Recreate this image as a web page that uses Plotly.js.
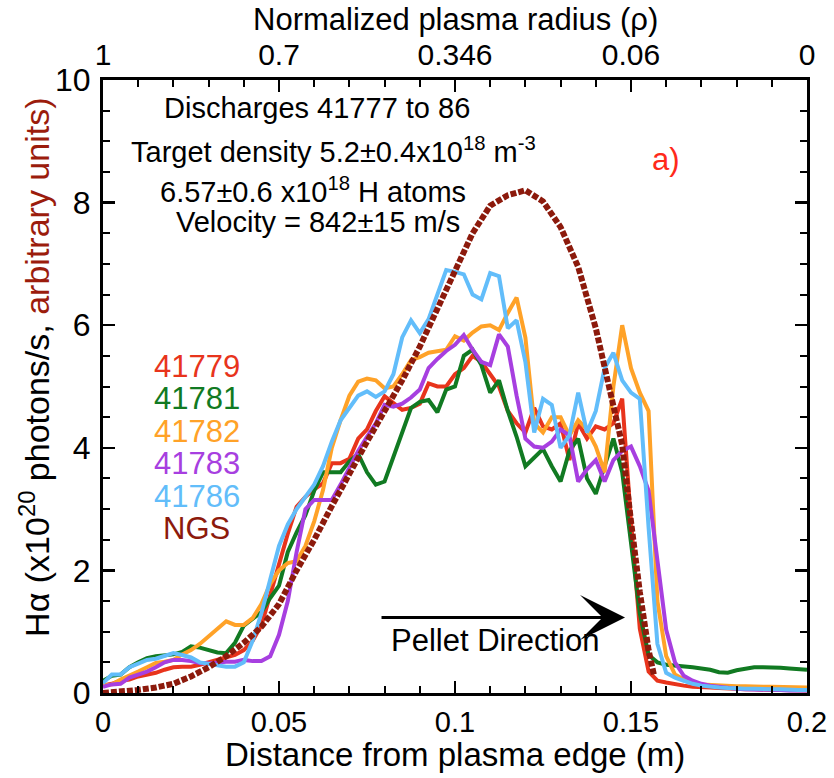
<!DOCTYPE html>
<html>
<head>
<meta charset="utf-8">
<script src="https://cdn.plot.ly/plotly-3.0.1.min.js"></script>
<style>html,body{margin:0;padding:0;background:#fff;}#chart{width:834px;height:778px;}</style>
</head>
<body>
<div id="chart"></div>
<script>
// Distance from plasma edge (m)
const distance = [0,0.0025,0.005,0.0075,0.01,0.0125,0.015,0.0175,0.02,0.0225,
0.025,0.0275,0.03,0.0325,0.035,0.0375,0.04,0.0425,0.045,0.0475,
0.05,0.0525,0.055,0.0575,0.06,0.0625,0.065,0.0675,0.07,0.0725,
0.075,0.0775,0.08,0.0825,0.085,0.0875,0.09,0.0925,0.095,0.0975,
0.1,0.1025,0.105,0.1075,0.11,0.1125,0.115,0.1175,0.12,0.1225,
0.125,0.1275,0.13,0.1325,0.135,0.1375,0.14,0.1425,0.145,0.1475,
0.15,0.1525,0.155,0.1575,0.16,0.1625,0.165,0.1675,0.17,0.1725,
0.175,0.1775,0.18,0.1825,0.185,0.1875,0.19,0.1925,0.195,0.1975,
0.2];

const s41779 = [0.12,0.15,0.2,0.22,0.27,0.3,0.33,0.38,0.42,0.43,
0.43,0.46,0.5,0.53,0.58,0.62,0.7,0.85,1.1,1.6,
2.15,2.6,3.04,3.2,3.32,3.42,3.75,3.75,3.82,4.15,
4.3,4.6,4.84,4.73,4.62,4.65,4.72,5.05,5.0,5.0,
5.2,5.3,5.5,5.4,5.2,5.0,4.6,4.4,4.25,4.65,
4.35,4.3,4.4,3.8,4.4,4.15,4.35,4.3,4.4,4.8,
2.8,1.05,0.35,0.2,0.17,0.14,0.12,0.1,0.1,0.09,
0.08,0.07,0.07,0.06,0.06,0.05,0.05,0.05,0.05,0.04,
0.04];

const s41781 = [0.2,0.28,0.3,0.42,0.5,0.57,0.6,0.62,0.63,0.67,
0.76,0.74,0.7,0.66,0.65,0.82,1.1,1.22,1.32,1.55,
1.75,2.3,2.62,2.9,3.3,3.6,3.6,3.6,3.78,3.9,
3.6,3.4,3.45,3.86,4.25,4.65,4.75,4.78,4.58,4.95,
5.0,5.5,5.6,5.35,4.9,5.1,4.6,4.18,3.7,3.85,
3.98,3.7,3.45,3.95,4.15,3.5,3.25,3.7,4.15,3.6,
2.5,1.3,0.62,0.5,0.46,0.45,0.44,0.42,0.4,0.38,
0.34,0.33,0.37,0.4,0.42,0.42,0.42,0.41,0.4,0.39,
0.38];

const s41782 = [0.12,0.14,0.22,0.28,0.35,0.42,0.49,0.51,0.54,0.63,
0.7,0.8,0.92,1.05,1.17,1.11,1.11,1.22,1.45,1.78,
2.0,2.12,2.15,2.4,2.8,3.31,4.0,4.45,4.85,5.08,
5.13,5.1,4.97,5.0,5.2,5.43,5.48,5.55,5.58,5.6,
5.82,5.75,5.88,5.98,6.0,5.92,6.2,6.45,5.8,4.4,
4.25,4.5,4.5,4.2,4.45,4.3,4.02,3.6,5.0,6.0,
5.3,4.9,4.6,1.5,0.6,0.3,0.22,0.16,0.14,0.13,
0.12,0.12,0.11,0.11,0.1,0.1,0.1,0.1,0.09,0.09,
0.09];

const s41783 = [0.1,0.14,0.15,0.25,0.3,0.35,0.42,0.5,0.54,0.54,
0.52,0.49,0.48,0.5,0.51,0.51,0.54,0.52,0.52,0.6,
0.95,1.5,2.3,3.0,3.15,3.15,3.15,3.4,3.68,3.95,
4.18,4.4,4.7,4.67,4.72,4.82,4.95,5.3,5.45,5.58,
5.68,5.84,5.6,5.4,5.35,5.85,5.65,4.85,4.15,4.02,
4.0,4.1,4.3,4.2,3.45,3.65,3.8,3.45,3.8,3.95,
4.02,3.7,3.3,2.1,1.03,0.5,0.28,0.2,0.15,0.12,
0.1,0.08,0.07,0.06,0.06,0.05,0.05,0.05,0.04,0.04,
0.04];

const s41786 = [0.16,0.3,0.3,0.42,0.48,0.54,0.56,0.6,0.65,0.62,
0.58,0.5,0.48,0.45,0.43,0.43,0.5,0.85,1.3,1.85,
2.4,2.75,3.0,3.2,3.4,3.7,4.1,4.45,4.65,4.85,
4.92,4.83,4.92,5.2,5.8,6.08,5.87,6.1,6.5,6.9,
6.87,6.83,6.5,6.42,6.85,6.8,5.95,6.08,5.4,4.25,
4.8,4.7,4.0,4.2,4.9,4.25,4.6,5.3,5.55,5.1,
4.9,4.8,2.7,0.8,0.33,0.25,0.2,0.15,0.12,0.1,
0.09,0.08,0.07,0.07,0.07,0.06,0.06,0.06,0.05,0.05,
0.05];

// NGS model (arbitrary units)
const ngsDistance = [0,0.005,0.01,0.015,0.02,0.025,0.03,0.035,0.04,0.045,
0.05,0.055,0.06,0.065,0.07,0.075,0.08,0.085,0.09,0.095,
0.1,0.105,0.11,0.115,0.12,0.125,0.13,0.135,0.14,0.145,
0.1475,0.15,0.1525,0.155,0.1565];
const ngsValues = [0,0.02,0.05,0.09,0.15,0.27,0.42,0.6,0.82,1.08,
1.45,2.0,2.5,3.05,3.6,4.1,4.6,5.1,5.65,6.25,
6.85,7.5,7.95,8.12,8.2,8.02,7.6,6.95,5.95,4.75,
4.05,2.8,1.65,0.7,0.3];

const shotNames = ['41779','41781','41782','41783','41786'];
const shotColors = ['#e8341c','#117a22','#ffa228','#a73fe0','#62bdfa'];
const ngsColor = '#8c1a0c';
const topTickVals = [0,0.05,0.1,0.15,0.2];
const topTickText = ['1','0.7','0.346','0.06','0'];

const seriesList = [s41779, s41781, s41782, s41783, s41786];
const traces = seriesList.map((s,i)=>({
  x: distance, y: s, type:'scatter', mode:'lines', name: shotNames[i],
  line:{color: shotColors[i], width:4}
}));
traces.push({x: ngsDistance, y: ngsValues, type:'scatter', mode:'lines', name:'NGS',
  line:{color: ngsColor, width:6, dash:'6px,2px'}});
// helper trace that activates the mirrored top / right axes
traces.push({x:[0,0.2], y:[null,null], xaxis:'x2', yaxis:'y2', type:'scatter', mode:'lines',
  showlegend:false, hoverinfo:'skip', line:{width:0}});

const FONT = 'Liberation Sans, Arial, Helvetica, sans-serif';
const annText = (text, x, y, size, color) => ({
  text, x, y, xref:'x', yref:'y', showarrow:false, xanchor:'center', yanchor:'middle',
  font:{family:FONT, size, color: color||'#000'}
});

const legendY = [5.32, 4.8, 4.27, 3.74, 3.21];
const annotations = [
  annText('Discharges 41777 to 86', 0.0608, 9.54, 29),
  annText('Target density 5.2±0.4x10<sup>18</sup> m<sup>-3</sup>', 0.0656, 8.86, 29),
  annText('6.57±0.6 x10<sup>18</sup> H atoms', 0.0597, 8.2, 29),
  annText('Velocity = 842±15 m/s', 0.061, 7.68, 29),
  annText('a)', 0.160, 8.7, 31, '#ff2a1a'),
  annText('Pellet Direction', 0.1114, 0.86, 31),
  {x:0.1483, y:1.23, ax:0.0787, ay:1.23, xref:'x', yref:'y', axref:'x', ayref:'y',
   text:'', showarrow:true, arrowhead:3, arrowsize:2.5, arrowwidth:3, arrowcolor:'#000'},
  // axis titles
  {text:'Distance from plasma edge (m)', xref:'paper', yref:'paper', x:0.5, y:-0.1005,
   showarrow:false, xanchor:'center', yanchor:'middle', font:{family:FONT, size:33, color:'#000'}},
  {text:'Normalized plasma radius (ρ)', xref:'paper', yref:'paper', x:0.5, y:1.0995,
   showarrow:false, xanchor:'center', yanchor:'middle', font:{family:FONT, size:31, color:'#000'}},
  {text:'Hα (x10<sup>20</sup> photons/s, <span style="color:#9b1c0c">arbitrary units)</span>',
   xref:'paper', yref:'paper', x:-0.0966, y:0.532, textangle:-90,
   showarrow:false, xanchor:'center', yanchor:'middle', font:{family:FONT, size:34, color:'#000'}}
];
shotNames.forEach((n,i)=>annotations.push(annText(n, 0.0267, legendY[i], 31, shotColors[i])));
annotations.push(annText('NGS', 0.0267, 2.69, 31, ngsColor));

const tickStyle = {ticks:'inside', ticklen:12, tickwidth:2.5, tickcolor:'#000'};
const layout = {
  width:834, height:778,
  margin:{l:103, r:27, t:80, b:85},
  paper_bgcolor:'#fff', plot_bgcolor:'#fff',
  showlegend:false,
  font:{family:FONT, color:'#000'},
  xaxis:Object.assign({range:[0,0.2], tick0:0, dtick:0.05,
    minor:{tickmode:'linear', dtick:0.01, tick0:0, ticks:'inside', ticklen:7, tickwidth:2, tickcolor:'#000'},
    showline:true, linewidth:3, linecolor:'#000', showgrid:false, zeroline:false,
    tickfont:{size:29}, ticklabelstandoff:1}, tickStyle),
  xaxis2:Object.assign({overlaying:'x', side:'top', anchor:'y2', range:[0,0.2], tickmode:'array',
    tickvals: topTickVals, ticktext: topTickText,
    minor:{tickmode:'linear', dtick:0.01, tick0:0, ticks:'inside', ticklen:7, tickwidth:2, tickcolor:'#000'},
    showline:true, linewidth:3, linecolor:'#000', showgrid:false,
    zeroline:false, tickfont:{size:30}, ticklabelstandoff:0}, tickStyle),
  yaxis:Object.assign({range:[0,10], tick0:0, dtick:2,
    minor:{dtick:0.5, tick0:0, ticks:'inside', ticklen:7, tickwidth:2, tickcolor:'#000'},
    showline:true, linewidth:3, linecolor:'#000', showgrid:false, zeroline:false,
    tickfont:{size:32}, ticklabelstandoff:3}, tickStyle),
  yaxis2:Object.assign({overlaying:'y', side:'right', anchor:'x2', range:[0,10], tick0:0, dtick:2,
    minor:{dtick:0.5, tick0:0, ticks:'inside', ticklen:7, tickwidth:2, tickcolor:'#000'},
    showline:true, linewidth:3, linecolor:'#000', showgrid:false, zeroline:false,
    showticklabels:false}, tickStyle),
  annotations
};

Plotly.newPlot('chart', traces, layout, {displayModeBar:false, staticPlot:true});
</script>
</body>
</html>
